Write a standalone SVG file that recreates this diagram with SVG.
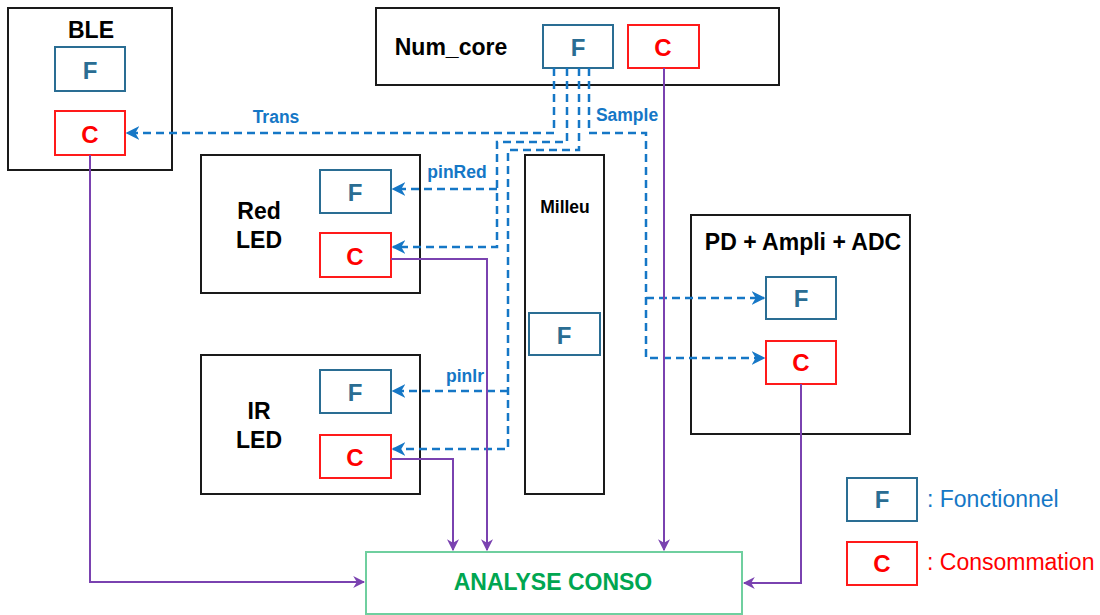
<svg xmlns="http://www.w3.org/2000/svg" width="1100" height="615" viewBox="0 0 1100 615">
<style>
text{font-family:"Liberation Sans",Arial,sans-serif;font-weight:bold;text-anchor:middle;dominant-baseline:central}
.blk{fill:#fff;stroke:#1a1a1a;stroke-width:2}
.f{fill:#fff;stroke:#2A6D93;stroke-width:2}
.c{fill:#fff;stroke:#FF1A1A;stroke-width:2}
.ft{fill:#2A6D93;font-size:24px}
.ct{fill:#FF0000;font-size:24px}
.title{fill:#000;font-size:23px}
.dash{fill:none;stroke:#1577C6;stroke-width:2.5;stroke-dasharray:8,5}
.pur{fill:none;stroke:#7A42B0;stroke-width:2}
.lbl{fill:#1577C6;font-size:17.5px}
.leg{font-weight:normal;font-size:23px;text-anchor:start}
</style>
<defs>
<marker id="ab" viewBox="0 0 10 10" refX="9" refY="5" markerWidth="5.5" markerHeight="5.5" orient="auto" markerUnits="strokeWidth">
<path d="M0,0 L10,5 L0,10 L3,5 z" fill="#1577C6"/>
</marker>
<marker id="ap" viewBox="0 0 10 10" refX="9" refY="5" markerWidth="6" markerHeight="6" orient="auto" markerUnits="strokeWidth">
<path d="M0,0 L10,5 L0,10 L3,5 z" fill="#7A42B0"/>
</marker>
</defs>
<rect width="1100" height="615" fill="#fff"/>

<g id="ble">
<rect class="blk" x="8" y="8" width="164" height="162"/>
<text class="title" x="91" y="30">BLE</text>
<rect class="f" x="55" y="47" width="70" height="44"/>
<text class="ft" x="90" y="70">F</text>
<rect class="c" x="55" y="111" width="70" height="44"/>
<text class="ct" x="90" y="134">C</text>
</g>

<g id="numcore">
<rect class="blk" x="376" y="8" width="403" height="77"/>
<text class="title" x="451" y="47">Num_core</text>
<rect class="f" x="543" y="25" width="70" height="43"/>
<text class="ft" x="578" y="47">F</text>
<rect class="c" x="628" y="25" width="71" height="43"/>
<text class="ct" x="663" y="47">C</text>
</g>

<g id="redled">
<rect class="blk" x="201" y="155" width="219" height="138"/>
<text class="title" x="259" y="211">Red</text>
<text class="title" x="259" y="240">LED</text>
<rect class="f" x="320" y="170" width="71" height="43"/>
<text class="ft" x="355" y="192">F</text>
<rect class="c" x="320" y="233" width="71" height="44"/>
<text class="ct" x="355" y="256">C</text>
</g>

<g id="irled">
<rect class="blk" x="201" y="355" width="219" height="139"/>
<text class="title" x="259" y="411">IR</text>
<text class="title" x="259" y="440">LED</text>
<rect class="f" x="320" y="370" width="71" height="43"/>
<text class="ft" x="355" y="392">F</text>
<rect class="c" x="320" y="435" width="71" height="43"/>
<text class="ct" x="355" y="457">C</text>
</g>

<g id="milleu">
<rect class="blk" x="525" y="155" width="79" height="339"/>
<text x="565" y="207" style="font-size:17.5px;fill:#000">Milleu</text>
<rect class="f" x="529" y="313" width="71" height="42"/>
<text class="ft" x="564" y="335">F</text>
</g>

<g id="pd">
<rect class="blk" x="691" y="215" width="219" height="219"/>
<text class="title" x="803" y="242">PD + Ampli + ADC</text>
<rect class="f" x="766" y="277" width="70" height="42"/>
<text class="ft" x="801" y="298">F</text>
<rect class="c" x="766" y="341" width="70" height="43"/>
<text class="ct" x="801" y="362">C</text>
</g>

<g id="analyse">
<rect x="366" y="552" width="376" height="62" fill="#fff" stroke="#6FCF9F" stroke-width="2"/>
<text x="553" y="582" style="font-size:23px;fill:#00A651">ANALYSE CONSO</text>
</g>

<g id="legend">
<rect class="f" x="847" y="478" width="70" height="43"/>
<text class="ft" x="882" y="499">F</text>
<text class="leg" x="927" y="499" style="fill:#1577C6">: Fonctionnel</text>
<rect class="c" x="847" y="542" width="70" height="43"/>
<text class="ct" x="882" y="563">C</text>
<text class="leg" x="927" y="562" style="fill:#FF0000">: Consommation</text>
</g>

<g id="connectors">
<path class="dash" d="M554,68 V133 H127" marker-end="url(#ab)"/>
<path class="dash" d="M567,68 V142 H497 V247 H393" marker-end="url(#ab)"/>
<path class="dash" d="M497,189 H393" marker-end="url(#ab)"/>
<path class="dash" d="M579,68 V150 H508 V449 H393" marker-end="url(#ab)"/>
<path class="dash" d="M508,391 H393" marker-end="url(#ab)"/>
<path class="dash" d="M589,68 V133 H646 V358 H764" marker-end="url(#ab)"/>
<path class="dash" d="M646,298 H764" marker-end="url(#ab)"/>
<path class="pur" d="M90,155 V582 H364" marker-end="url(#ap)"/>
<path class="pur" d="M391,259 H487 V550" marker-end="url(#ap)"/>
<path class="pur" d="M391,459 H453 V550" marker-end="url(#ap)"/>
<path class="pur" d="M664,68 V550" marker-end="url(#ap)"/>
<path class="pur" d="M801,384 V583 H744" marker-end="url(#ap)"/>
<text class="lbl" x="276" y="117">Trans</text>
<text class="lbl" x="627" y="115">Sample</text>
<text class="lbl" x="457" y="172">pinRed</text>
<text class="lbl" x="465" y="376">pinIr</text>
</g>
</svg>
